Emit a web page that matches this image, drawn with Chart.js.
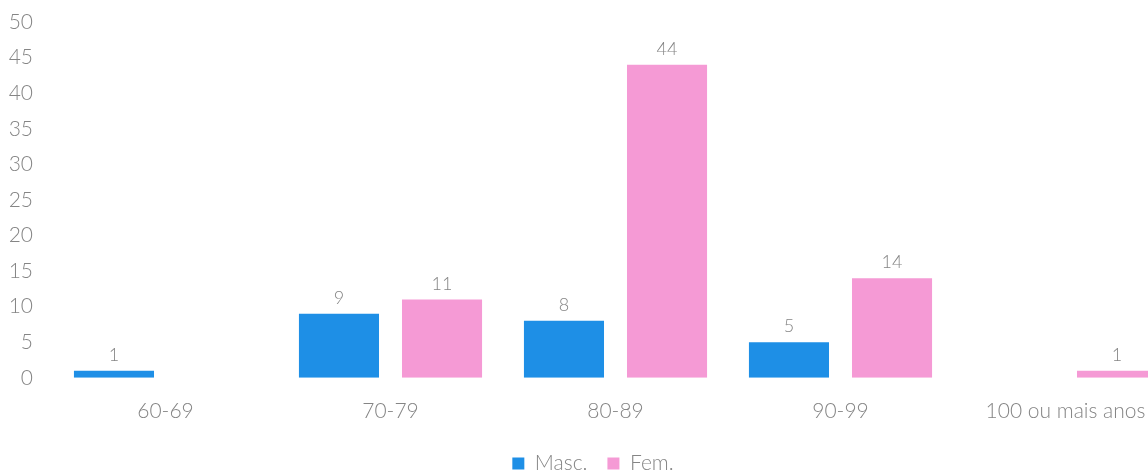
<!DOCTYPE html>
<html><head><meta charset="utf-8">
<script src="https://cdn.jsdelivr.net/npm/chart.js@4/dist/chart.umd.min.js"></script>
<style>
html,body{margin:0;padding:0;background:#fff;overflow:hidden;}
#wrap{width:1180px;height:472px;position:relative;}
</style></head><body>
<div id="wrap"><canvas id="c"></canvas></div>
<script>
const categories = ['60-69', '70-79', '80-89', '90-99', '100 ou mais anos'];
const masc = [1, 9, 8, 5, null];
const fem = [null, 11, 44, 14, 1];
const seriesNames = ['Masc.', 'Fem.'];
const yTicksMax = 50;
const yTicksStep = 5;

const FONT = "Lato, 'Open Sans', sans-serif";
const GREY = '#858585';

const valueLabels = {
  id: 'valueLabels',
  afterDatasetsDraw(chart) {
    const ctx = chart.ctx;
    ctx.save();
    ctx.font = '300 18px ' + FONT;
    ctx.fillStyle = GREY;
    ctx.textAlign = 'center';
    ctx.textBaseline = 'alphabetic';
    chart.data.datasets.forEach((ds, i) => {
      const meta = chart.getDatasetMeta(i);
      meta.data.forEach((bar, j) => {
        const v = ds.data[j];
        if (v === null || v === undefined) return;
        ctx.fillText(String(v), bar.x, bar.y - 10);
      });
    });
    ctx.restore();
  }
};

new Chart(document.getElementById('c'), {
  type: 'bar',
  data: {
    labels: categories,
    datasets: [
      { label: seriesNames[0], data: masc, backgroundColor: '#1E8FE6' },
      { label: seriesNames[1], data: fem, backgroundColor: '#F59AD5' }
    ]
  },
  options: {
    responsive: true,
    maintainAspectRatio: false,
    animation: false,
    layout: { padding: { top: 22, left: 8, right: 2, bottom: -12 } },
    datasets: { bar: { categoryPercentage: 0.916, barPercentage: 0.777 } },
    scales: {
      x: {
        grid: { display: false, drawTicks: false },
        border: { display: false },
        ticks: { color: GREY, font: { family: FONT, size: 21, weight: 300 }, padding: 21, maxRotation: 0, autoSkip: false },
        afterFit(s) { s.height = s.height - 12; }
      },
      y: {
        min: 0, max: yTicksMax,
        grid: { display: false, drawTicks: false },
        border: { display: false },
        ticks: { stepSize: yTicksStep, color: GREY, font: { family: FONT, size: 21, weight: 300 }, padding: 20 },
        afterFit(s) { s.width = 45; s.paddingTop = 0; }
      }
    },
    plugins: {
      legend: {
        position: 'bottom',
        labels: { boxWidth: 12, boxHeight: 12, color: GREY, font: { family: FONT, size: 21, weight: 300 }, padding: 20 }
      },
      tooltip: { enabled: false }
    }
  },
  plugins: [valueLabels]
});
</script>
</body></html>
